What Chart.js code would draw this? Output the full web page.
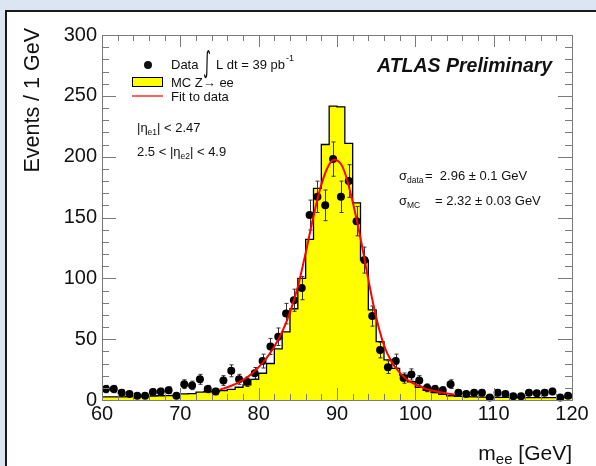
<!DOCTYPE html>
<html>
<head>
<meta charset="utf-8">
<script src="https://cdn.jsdelivr.net/npm/chart.js@4.4.1/dist/chart.umd.min.js"></script>
<style>
html,body{margin:0;padding:0;background:#dce6f2;}
canvas{display:block;}
</style>
</head>
<body>
<canvas id="c" width="596" height="466"></canvas>
<script>
// ---- Data ----
const binLow = [60,61,62,63,64,65,66,67,68,69,70,71,72,73,74,75,76,77,78,79,
                80,81,82,83,84,85,86,87,88,89,90,91,92,93,94,95,96,97,98,99,
                100,101,102,103,104,105,106,107,108,109,110,111,112,113,114,115,116,117,118,119];
const dataCounts = [9,9,6,5,3.5,3.5,6.5,7,8,3.5,13,12,17,9,7,16,24,17,15,22,
                    32,44,52,71,82,92,152,167,160,198,167,180,147,115,69,41,27,32,18,21,
                    16,10,9,8,13,6,5,6,6,2,6,5,3,3,6,5.5,6,7,2,3.5];
const dataErrors = [3,3,2.4,2.2,1.8,1.8,2.5,2.6,2.8,1.8,3.6,3.5,4.1,3,2.6,4,4.9,4.1,3.9,4.7,
                    5.7,6.6,7.2,8.4,9.1,9.6,12.3,12.9,12.6,14.1,12.9,13.4,12.1,10.7,8.3,6.4,5.2,5.7,4.2,4.6,
                    4,3.2,3,2.8,3.6,2.4,2.2,2.4,2.4,1.4,2.4,2.2,1.7,1.7,2.4,2.3,2.4,2.6,1.4,1.9];
const mcCounts = [2.5,2.5,2.5,2.7,2.8,3,3.3,3.5,3.6,3.8,5,5.2,6.5,6.8,7,7.8,8.8,10.5,12.5,17,
                  22,30,42,56,75,100,132,174,210,241.5,241,211,162,115,74,48,33,26,20.5,15,
                  10.5,8,6,4.7,3.5,3,2.7,2.5,2.4,2.3,2.2,2.1,2,2,2,2,2,2,2,2];
const fitX = [75,76,77,78,79,80,81,82,83,84,85,86,87,88,89,89.7,90.5,91,92,93,94,95,96,97,98,99,100,101,102,103,104,105];
const fitY = [8.5,10.5,13,16.5,21,27,34.5,44,56,72,93,121,151,177,193.5,197.5,194,187,163,133,99,68,45,31,22.5,16.5,12.8,10,8,6.5,5.3,4.5];
const xTickLabels = [60,70,80,90,100,110,120];
const yTickLabels = [0,50,100,150,200,250,300];
const xMinorStep = 2, yMinorStep = 10;

const FONT = '"Liberation Sans", Arial, Helvetica, sans-serif';

const bgPlugin = {
  id: 'bg',
  beforeDraw(chart) {
    const ctx = chart.ctx;
    ctx.save();
    ctx.fillStyle = '#dce6f2';
    ctx.fillRect(0, 0, chart.width, chart.height);
    ctx.fillStyle = '#ffffff';
    ctx.fillRect(6, 11, chart.width - 6, chart.height - 11);
    ctx.strokeStyle = '#1a1a1a';
    ctx.lineWidth = 2;
    ctx.beginPath();
    ctx.moveTo(6, chart.height);
    ctx.lineTo(6, 11);
    ctx.lineTo(chart.width, 11);
    ctx.stroke();
    ctx.restore();
  }
};

const errPlugin = {
  id: 'errbars',
  beforeDatasetDraw(chart, args) {
    if (args.index !== 0) return;
    const ctx = chart.ctx, xs = chart.scales.x, ys = chart.scales.y;
    ctx.save();
    ctx.strokeStyle = '#333';
    ctx.lineWidth = 1;
    binLow.forEach((lo, i) => {
      const px = Math.round(xs.getPixelForValue(lo + 0.5)) + 0.5;
      const y1 = ys.getPixelForValue(dataCounts[i] + dataErrors[i]);
      const y2 = ys.getPixelForValue(Math.max(0, dataCounts[i] - dataErrors[i]));
      ctx.beginPath();
      ctx.moveTo(px, y1); ctx.lineTo(px, y2);
      ctx.moveTo(px - 2, y1); ctx.lineTo(px + 2, y1);
      ctx.moveTo(px - 2, y2); ctx.lineTo(px + 2, y2);
      ctx.stroke();
    });
    ctx.restore();
  }
};

const framePlugin = {
  id: 'frame',
  afterDatasetsDraw(chart) {
    const ctx = chart.ctx, a = chart.chartArea, xs = chart.scales.x, ys = chart.scales.y;
    ctx.save();
    ctx.strokeStyle = '#7a7a7a';
    ctx.lineWidth = 1;
    ctx.strokeRect(Math.round(a.left) + 0.5, Math.round(a.top) + 0.5, Math.round(a.right - a.left), Math.round(a.bottom - a.top));
    ctx.beginPath();
    for (let v = xs.min; v <= xs.max + 1e-9; v += xMinorStep) {
      const px = Math.round(xs.getPixelForValue(v)) + 0.5;
      const len = xTickLabels.includes(v) ? 12 : 6;
      ctx.moveTo(px, a.bottom); ctx.lineTo(px, a.bottom - len);
      ctx.moveTo(px, a.top); ctx.lineTo(px, a.top + len);
    }
    for (let v = ys.min; v <= ys.max + 1e-9; v += yMinorStep) {
      const py = Math.round(ys.getPixelForValue(v)) + 0.5;
      const len = yTickLabels.includes(v) ? 14 : 7;
      ctx.moveTo(a.left, py); ctx.lineTo(a.left + len, py);
      ctx.moveTo(a.right, py); ctx.lineTo(a.right - len, py);
    }
    ctx.stroke();
    ctx.restore();
  }
};

function txt(ctx, s, x, y, size, opts) {
  opts = opts || {};
  ctx.font = (opts.style || '') + ' ' + size + 'px ' + FONT;
  ctx.fillText(s, x, y);
  return x + ctx.measureText(s).width;
}

const textPlugin = {
  id: 'texts',
  afterDraw(chart) {
    const ctx = chart.ctx;
    ctx.save();
    ctx.fillStyle = '#111';
    ctx.textBaseline = 'alphabetic';
    ctx.textAlign = 'left';

    // Y title
    ctx.save();
    ctx.translate(39, 28);
    ctx.rotate(-Math.PI / 2);
    ctx.textAlign = 'right';
    ctx.font = '21.5px ' + FONT;
    ctx.fillText('Events / 1 GeV', 0, 0);
    ctx.restore();

    // X title  m_ee [GeV]
    ctx.font = '21px ' + FONT;
    const wG = ctx.measureText(' [GeV]').width;
    ctx.font = '15px ' + FONT;
    const wE = ctx.measureText('ee').width;
    ctx.font = '21px ' + FONT;
    const wM = ctx.measureText('m').width;
    let xx = 572 - wG - wE - wM;
    xx = txt(ctx, 'm', xx, 460, 21);
    xx = txt(ctx, 'ee', xx, 464, 15);
    txt(ctx, ' [GeV]', xx, 460, 21);

    // Legend
    ctx.beginPath();
    ctx.arc(148, 65, 4, 0, Math.PI * 2);
    ctx.fill();
    txt(ctx, 'Data', 171, 69, 13);
    ctx.save();
    ctx.translate(203, 72);
    ctx.scale(0.75, 1.45);
    ctx.font = '20px "DejaVu Sans", sans-serif';
    ctx.fillText('\u222B', 0, 0);
    ctx.restore();
    let lx = txt(ctx, 'L dt = 39 pb', 216, 69, 13);
    txt(ctx, '-1', lx + 1, 61, 9);

    ctx.fillStyle = '#ffff00';
    ctx.fillRect(132, 77, 31, 10);
    ctx.strokeStyle = '#000';
    ctx.lineWidth = 1;
    ctx.strokeRect(132.5, 77.5, 30, 9);
    ctx.fillStyle = '#111';
    txt(ctx, 'MC Z\u2192 ee', 171, 87, 13);

    ctx.strokeStyle = '#ff3b3b';
    ctx.lineWidth = 1.6;
    ctx.beginPath();
    ctx.moveTo(132, 96); ctx.lineTo(163, 96);
    ctx.stroke();
    txt(ctx, 'Fit to data', 171, 101, 13);

    // eta cuts
    let ex = txt(ctx, '|\u03B7', 137, 132, 13);
    ex = txt(ctx, 'e1', ex, 135, 8.5);
    txt(ctx, '| < 2.47', ex, 132, 13);
    ex = txt(ctx, '2.5 < |\u03B7', 137, 156, 13);
    ex = txt(ctx, 'e2', ex, 159, 8.5);
    txt(ctx, '| < 4.9', ex, 156, 13);

    // ATLAS Preliminary
    txt(ctx, 'ATLAS Preliminary', 377, 72, 19.5, {style: 'italic bold'});

    // sigma texts
    let sx = txt(ctx, '\u03C3', 399, 180, 13);
    txt(ctx, 'data', sx, 183, 8.5);
    txt(ctx, '=  2.96 \u00B1 0.1 GeV', 425, 180, 13);
    sx = txt(ctx, '\u03C3', 399, 205, 13);
    txt(ctx, 'MC', sx, 208, 8.5);
    txt(ctx, '= 2.32 \u00B1 0.03 GeV', 435, 205, 13);

    ctx.restore();
  }
};

const mcPoints = binLow.map((lo, i) => ({x: lo, y: mcCounts[i]}));
mcPoints.push({x: binLow[binLow.length - 1] + 1, y: mcCounts[mcCounts.length - 1]});

new Chart(document.getElementById('c'), {
  type: 'line',
  data: {
    datasets: [
      {
        label: 'Data', type: 'scatter',
        data: binLow.map((lo, i) => ({x: lo + 0.5, y: dataCounts[i]})),
        pointRadius: 4, pointBackgroundColor: '#000', pointBorderColor: '#000', pointBorderWidth: 0,
        showLine: false, clip: false, order: 1
      },
      {
        label: 'Fit', type: 'line',
        data: fitX.map((x, i) => ({x: x, y: fitY[i]})),
        borderColor: '#ff0000', borderWidth: 2, pointRadius: 0, fill: false,
        cubicInterpolationMode: 'monotone', order: 0
      },
      {
        label: 'MC', type: 'line',
        data: mcPoints, stepped: 'before',
        fill: 'origin', backgroundColor: '#ffff00', borderColor: '#000', borderWidth: 1.3,
        pointRadius: 0, order: 2
      }
    ]
  },
  options: {
    responsive: false, animation: false, devicePixelRatio: 1,
    layout: {padding: {top: 35, right: 24, left: 0, bottom: 0}},
    plugins: {legend: {display: false}, tooltip: {enabled: false}},
    scales: {
      x: {
        type: 'linear', min: 60, max: 120,
        afterBuildTicks: (s) => { s.ticks = xTickLabels.map(v => ({value: v})); },
        afterFit: (s) => { s.height = 66; },
        grid: {display: false, drawTicks: false},
        border: {display: false},
        ticks: {font: {family: FONT, size: 20}, color: '#111', padding: 2, maxRotation: 0, autoSkip: false}
      },
      y: {
        type: 'linear', min: 0, max: 300,
        afterBuildTicks: (s) => { s.ticks = yTickLabels.map(v => ({value: v})); },
        afterFit: (s) => { s.width = 102; },
        grid: {display: false, drawTicks: false},
        border: {display: false},
        ticks: {font: {family: FONT, size: 20}, color: '#111', padding: 5}
      }
    }
  },
  plugins: [bgPlugin, errPlugin, framePlugin, textPlugin]
});
</script>
</body>
</html>
